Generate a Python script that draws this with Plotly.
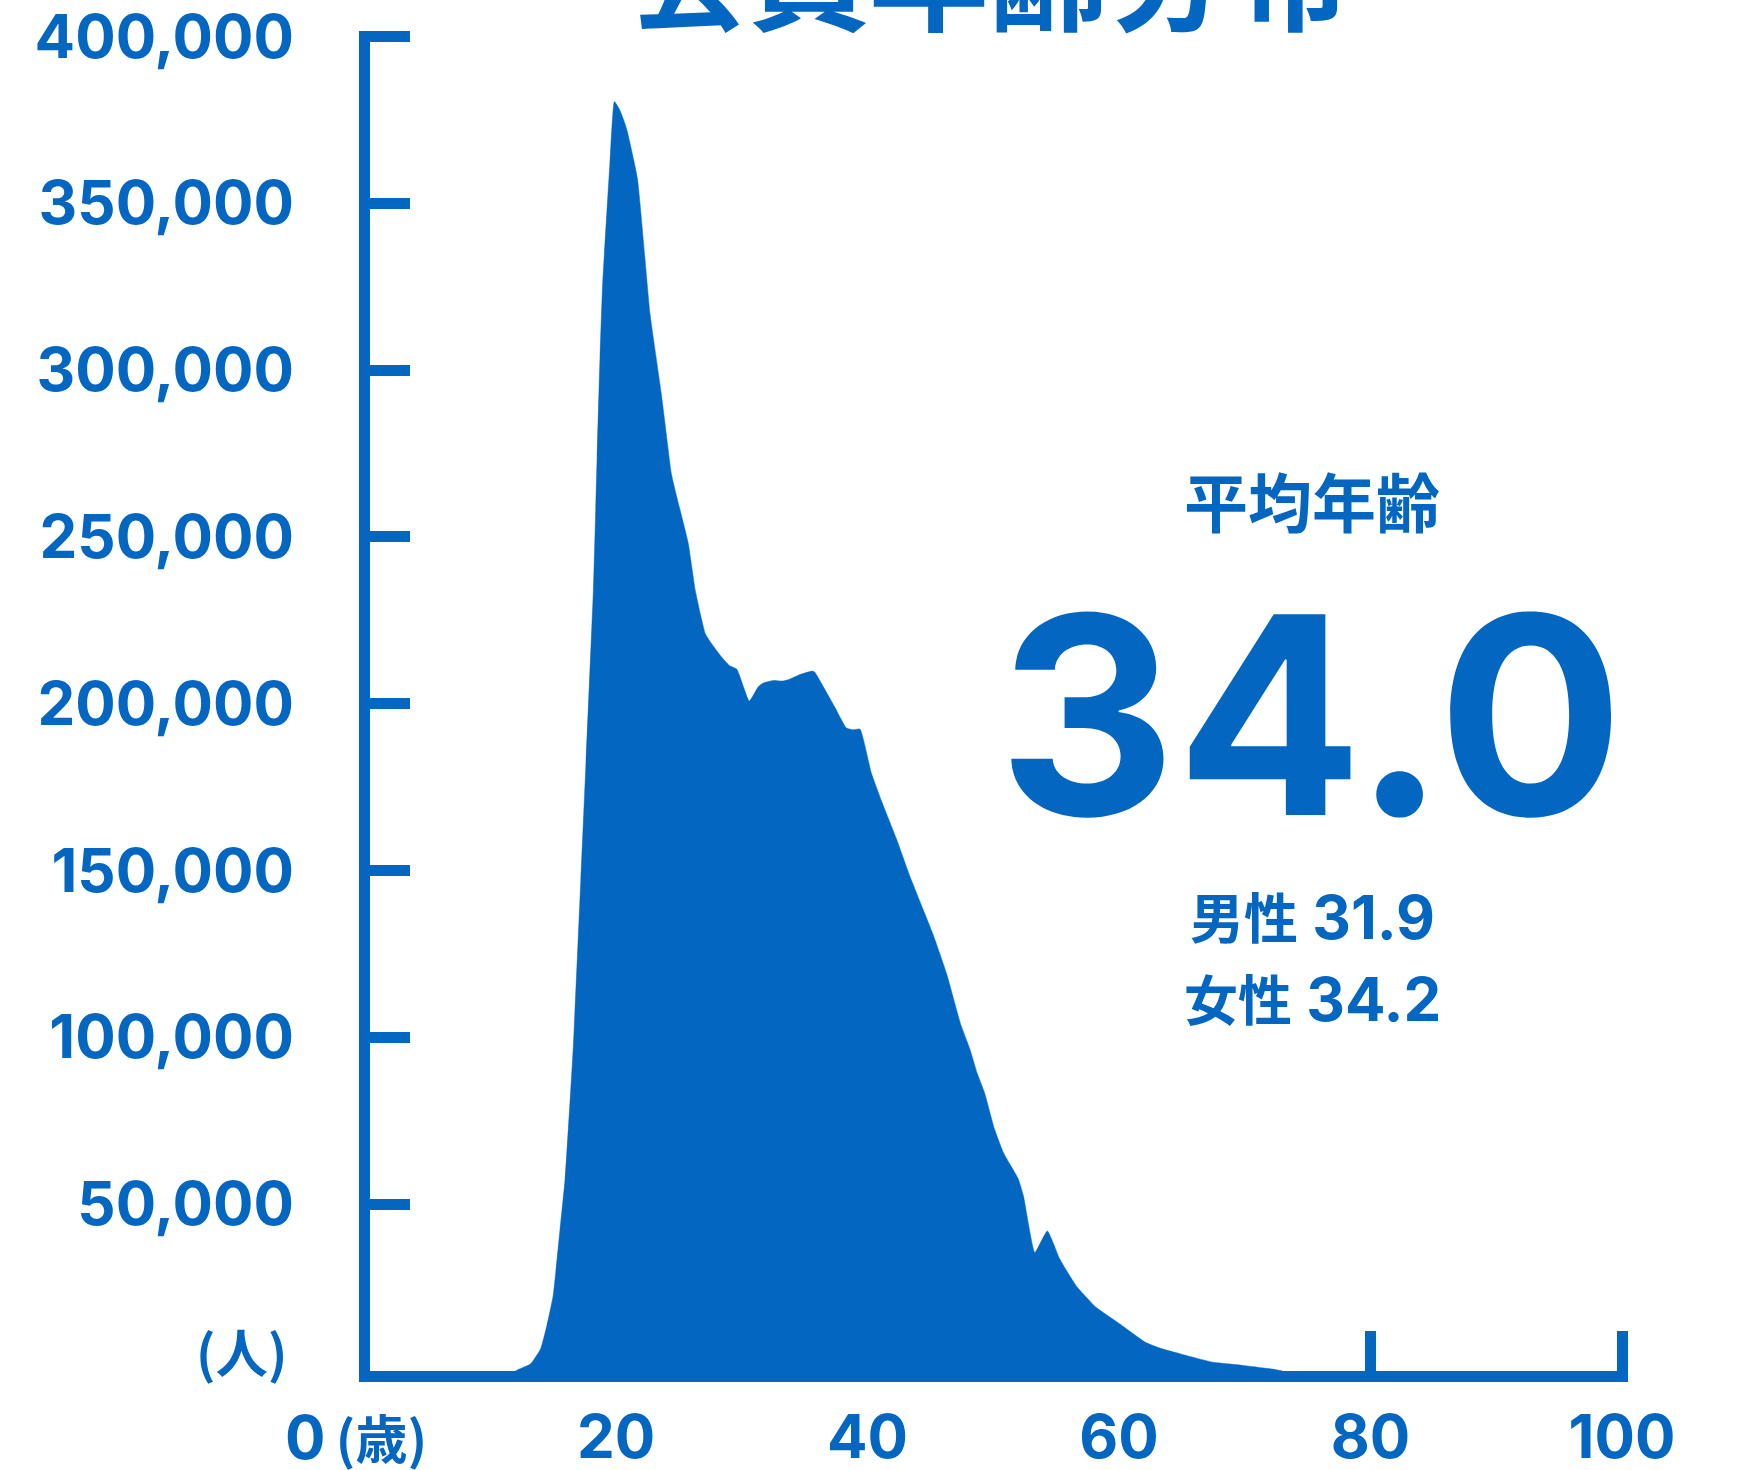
import plotly.graph_objects as go

# ---------------- data ----------------
ages = [12.0, 12.2, 13.2, 14.0, 14.5, 15.0, 15.55, 15.95, 16.6, 17.2, 18.2, 18.5,
        18.73, 18.94, 19.5, 19.87, 20.3, 20.7, 20.9, 21.7, 22.7, 23.6, 24.4, 24.7,
        25.5, 25.75, 26.3, 26.7, 27.1, 27.6, 28.4, 29.0, 29.6, 30.6, 31.3, 31.7,
        32.5, 33.2, 33.7, 34.6, 35.6, 35.8, 36.5, 37.4, 38.3, 38.8, 39.4, 40.3,
        41.1, 42.3, 43.4, 44.3, 45.2, 46.3, 47.4, 48.15, 48.7, 49.3, 50.1, 50.8,
        51.4, 52.0, 52.4, 53.3, 54.3, 55.3, 56.6, 58.2, 60.1, 62.1, 63.3, 65.4,
        67.5, 69.6, 72.5, 73.0]
members = [0, 400, 2100, 6600, 13600, 22500, 42500, 57500, 97000, 147000, 234000, 274000,
           304000, 326000, 361000, 380500, 378000, 374000, 371500, 357500, 317000, 293000, 269000, 264000,
           252000, 248000, 234000, 227000, 221000, 218000, 214000, 211500, 210400, 200800, 205000, 206200,
           207000, 206800, 207200, 208700, 209800, 209500, 205000, 199000, 192800, 192200, 192400, 179300,
           171000, 159500, 148000, 139500, 131000, 119000, 104000, 96400, 89500, 83500, 72500, 65500,
           61500, 57500, 52500, 35500, 42000, 33500, 25500, 19000, 14000, 8600, 6800, 4600,
           2600, 1800, 400, 0]

y_ticks = [50000, 100000, 150000, 200000, 250000, 300000, 350000, 400000]
x_ticks = [20, 40, 60, 80, 100]
x_ticktext = ["20", "40", "60", "80", "100"]

title_text = "会員年齢分布"
avg_label = "平均年齢"
avg_value = "34.0"
male_label, male_value = "男性", "31.9"
female_label, female_value = "女性", "34.2"
y_unit = "(人)"
x_zero_label = "0"
x_unit = "(歳)"

# ---------------- style ----------------
BLUE = "#0366C1"
W, H = 1742, 1470
L, R, T, B = 370, 1628, 31, 1371          # plot area edges in px
LAT = "Inter"
CJK = "Noto Sans CJK JP"

def px(xp):
    return (xp - L) / (R - L)

def py(yp):
    return (B - yp) / (B - T)

fig = go.Figure()
fig.add_trace(go.Scatter(
    x=ages, y=members, mode="lines", fill="tozeroy",
    line=dict(color=BLUE, width=0.5, shape="spline", smoothing=0.4), fillcolor=BLUE,
    hoverinfo="skip", showlegend=False))

tickfont = dict(family=LAT, size=60, color=BLUE, weight="bold")
fig.update_layout(
    width=W, height=H,
    margin=dict(l=L, r=W - R, t=T, b=H - B, pad=0, autoexpand=False),
    paper_bgcolor="white", plot_bgcolor="white",
    xaxis=dict(range=[0.437, 100.477], showgrid=False, zeroline=False,
               showline=True, linecolor=BLUE, linewidth=11,
               ticks="inside", ticklen=40, tickwidth=11, tickcolor=BLUE,
               tickvals=x_ticks, ticktext=x_ticktext, tickfont=tickfont,
               ticklabelstandoff=4, ticklabeloverflow="allow",
               automargin=False, fixedrange=True),
    yaxis=dict(range=[0, 401649], showgrid=False, zeroline=False,
               showline=True, linecolor=BLUE, linewidth=11,
               ticks="inside", ticklen=40, tickwidth=11, tickcolor=BLUE,
               tickvals=y_ticks, tickformat=",", tickfont=tickfont,
               ticklabelstandoff=53, ticklabeloverflow="allow",
               automargin=False, fixedrange=True),
)

def ann(text, xp, yp, size, family, xanchor="center", yanchor="middle"):
    fig.add_annotation(text=text, x=px(xp), y=py(yp), xref="paper", yref="paper",
                       xanchor=xanchor, yanchor=yanchor, showarrow=False,
                       font=dict(family=family, size=size, color=BLUE, weight="bold"))

ann(title_text, 989, -30, 120, CJK)
ann(avg_label, 1312, 499, 64, CJK)
ann(avg_value, 1311, 715, 276, LAT)
span = "<span style='font-family:Noto Sans CJK JP;font-size:54px'>{}</span> {}"
ann(span.format(male_label, male_value), 1312, 915, 60, LAT)
ann(span.format(female_label, female_value), 1312, 997, 60, LAT)
ann(y_unit, 289, 1350, 52, CJK, xanchor="right")
ann(x_zero_label + "<span style='font-family:Noto Sans CJK JP;font-size:52px'>\u2009" + x_unit + "</span>",
    283, 1436, 60, LAT, xanchor="left")

fig.write_html("out.html", config={"displayModeBar": False},
               post_script="document.body.style.margin='0';")
